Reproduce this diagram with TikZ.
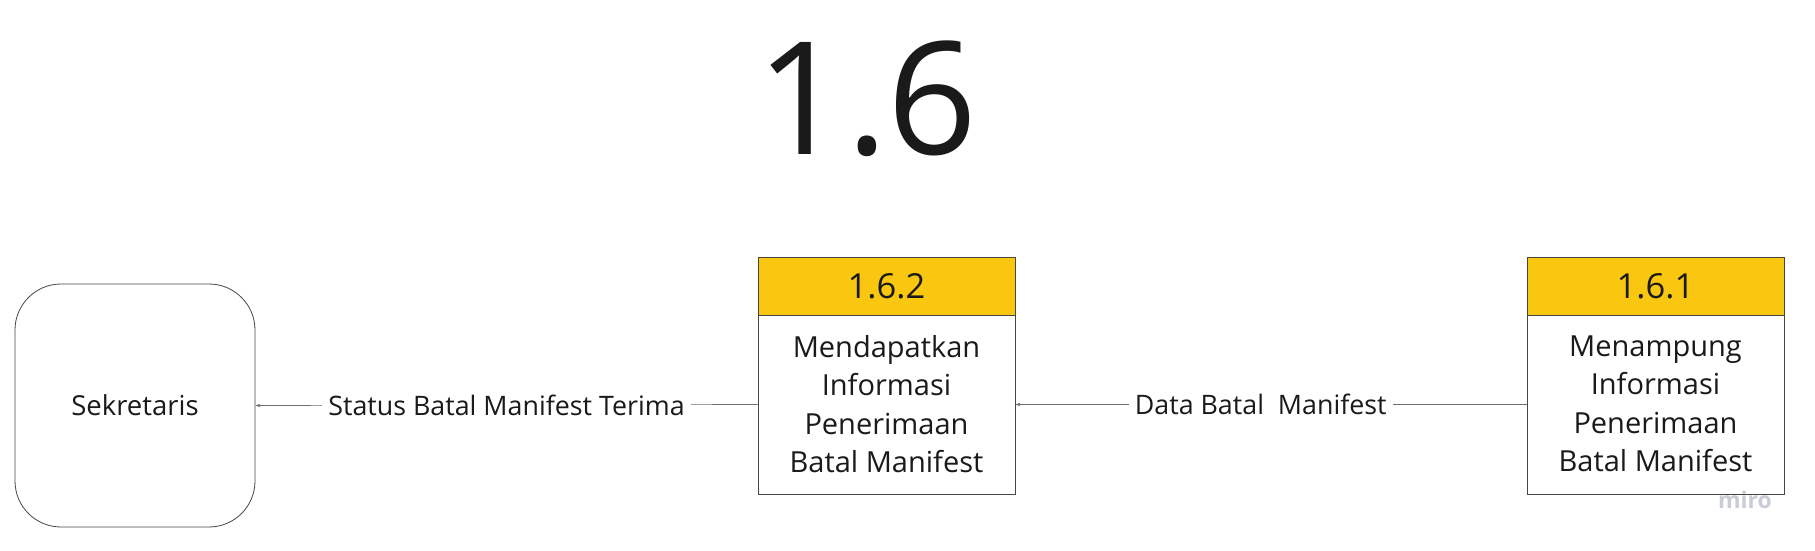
\documentclass[tikz,border=0pt]{standalone}
\usepackage{fontspec}
\setmainfont{Open Sans}
\usetikzlibrary{arrows.meta}
\definecolor{hdr}{RGB}{249,199,16}
\definecolor{edge}{RGB}{70,70,70}
\definecolor{flow}{RGB}{110,110,110}
\definecolor{txt}{RGB}{26,26,26}
\definecolor{wm}{RGB}{200,204,214}
\tikzset{
  header/.style={draw=edge, line width=0.8pt, fill=hdr, minimum width=257pt, minimum height=58pt, inner sep=0pt, text=txt, font=\fontsize{34.5}{40}\selectfont},
  bodybox/.style={draw=edge, line width=0.8pt, fill=white, minimum width=257pt, minimum height=179pt, inner sep=0pt},
  bodytext/.style={align=center, text=txt, font=\fontsize{29}{38.5}\selectfont},
  entity/.style={draw=edge, line width=0.8pt, rounded corners=46pt, minimum width=240pt, minimum height=243pt, inner sep=0pt, text=txt, font=\fontsize{27.5}{32}\selectfont},
  flowline/.style={draw=flow, line width=0.7pt, -{Stealth[length=5pt,width=3.5pt]}},
  flowlabel/.style={fill=white, text=txt, inner xsep=6pt, inner ysep=2pt, font=\fontsize{26.8}{32}\selectfont}
}
\begin{document}
\begin{tikzpicture}[x=1pt,y=-1pt]
\useasboundingbox[fill=white] (0,0) rectangle (1815,550);
\node[text=txt, font=\fontsize{157}{165}\selectfont, anchor=base] (title) at (867,154) {1.6};
\node[entity] (sek) at (135,405.5) {Sekretaris};
% 1.6.2
\node[header] (h2) at (886.5,286) {1.6.2};
\node[bodybox] (b2) at (886.5,404.5) {};
\node[bodytext] (t2) at (886.5,404) {Mendapatkan\\Informasi\\Penerimaan\\Batal Manifest};
% 1.6.1
\node[header] (h1) at (1655.5,286) {1.6.1};
\node[bodybox] (b1) at (1655.5,404.5) {};
\node[bodytext] (t1) at (1655.5,404) {Menampung\\Informasi\\Penerimaan\\Batal Manifest};
% flows
\draw[flowline] (b2.west) -- node[flowlabel] (l1) {Status Batal Manifest Terima} (sek.east);
\draw[flowline] (b1.west) -- node[flowlabel, pos=0.52] (l2) {Data Batal~ Manifest} (b2.east);
% watermark
\node[text=wm, font=\fontsize{23}{25}\selectfont\bfseries, anchor=base] (miro) at (1745,508) {miro};
\end{tikzpicture}
\end{document}
